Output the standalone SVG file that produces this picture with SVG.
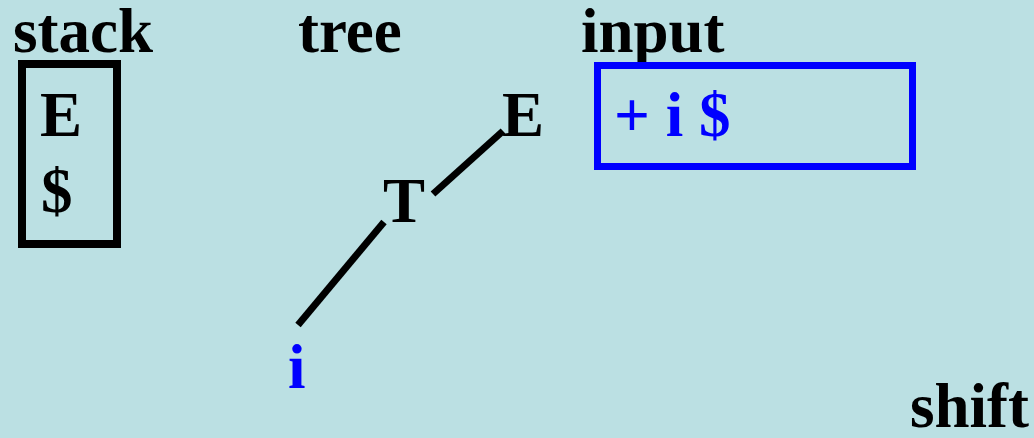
<svg xmlns="http://www.w3.org/2000/svg" width="1034" height="438" viewBox="0 0 1034 438">
<style>
text{font-family:"Liberation Serif","Times New Roman",serif;font-weight:bold;font-size:63px;fill:#000}
.blue{fill:#0000FF}
.edge{stroke:#000;stroke-width:7;fill:none}
</style>
<rect x="0" y="0" width="1034" height="438" fill="#BBE0E3"/>
<g id="labels">
<text x="13" y="52">stack</text>
<text x="298" y="52">tree</text>
<text x="581" y="52">input</text>
<text x="1029" y="427" text-anchor="end">shift</text>
</g>
<g id="stack">
<rect x="22" y="64" width="95" height="180" fill="none" stroke="#000" stroke-width="8"/>
<text x="40" y="136">E</text>
<text x="41" y="212">$</text>
</g>
<g id="input">
<rect x="597.5" y="65.5" width="315" height="101" fill="none" stroke="#0000FF" stroke-width="7"/>
<text class="blue" x="614" y="136">+ i $</text>
</g>
<g id="connectors">
<line class="edge" x1="503" y1="131" x2="433" y2="194"/>
<line class="edge" x1="384" y1="222" x2="298" y2="325"/>
</g>
<g id="node-E"><text x="502" y="136">E</text></g>
<g id="node-T"><text x="383" y="222">T</text></g>
<g id="node-i"><text class="blue" x="288" y="388">i</text></g>
</svg>
